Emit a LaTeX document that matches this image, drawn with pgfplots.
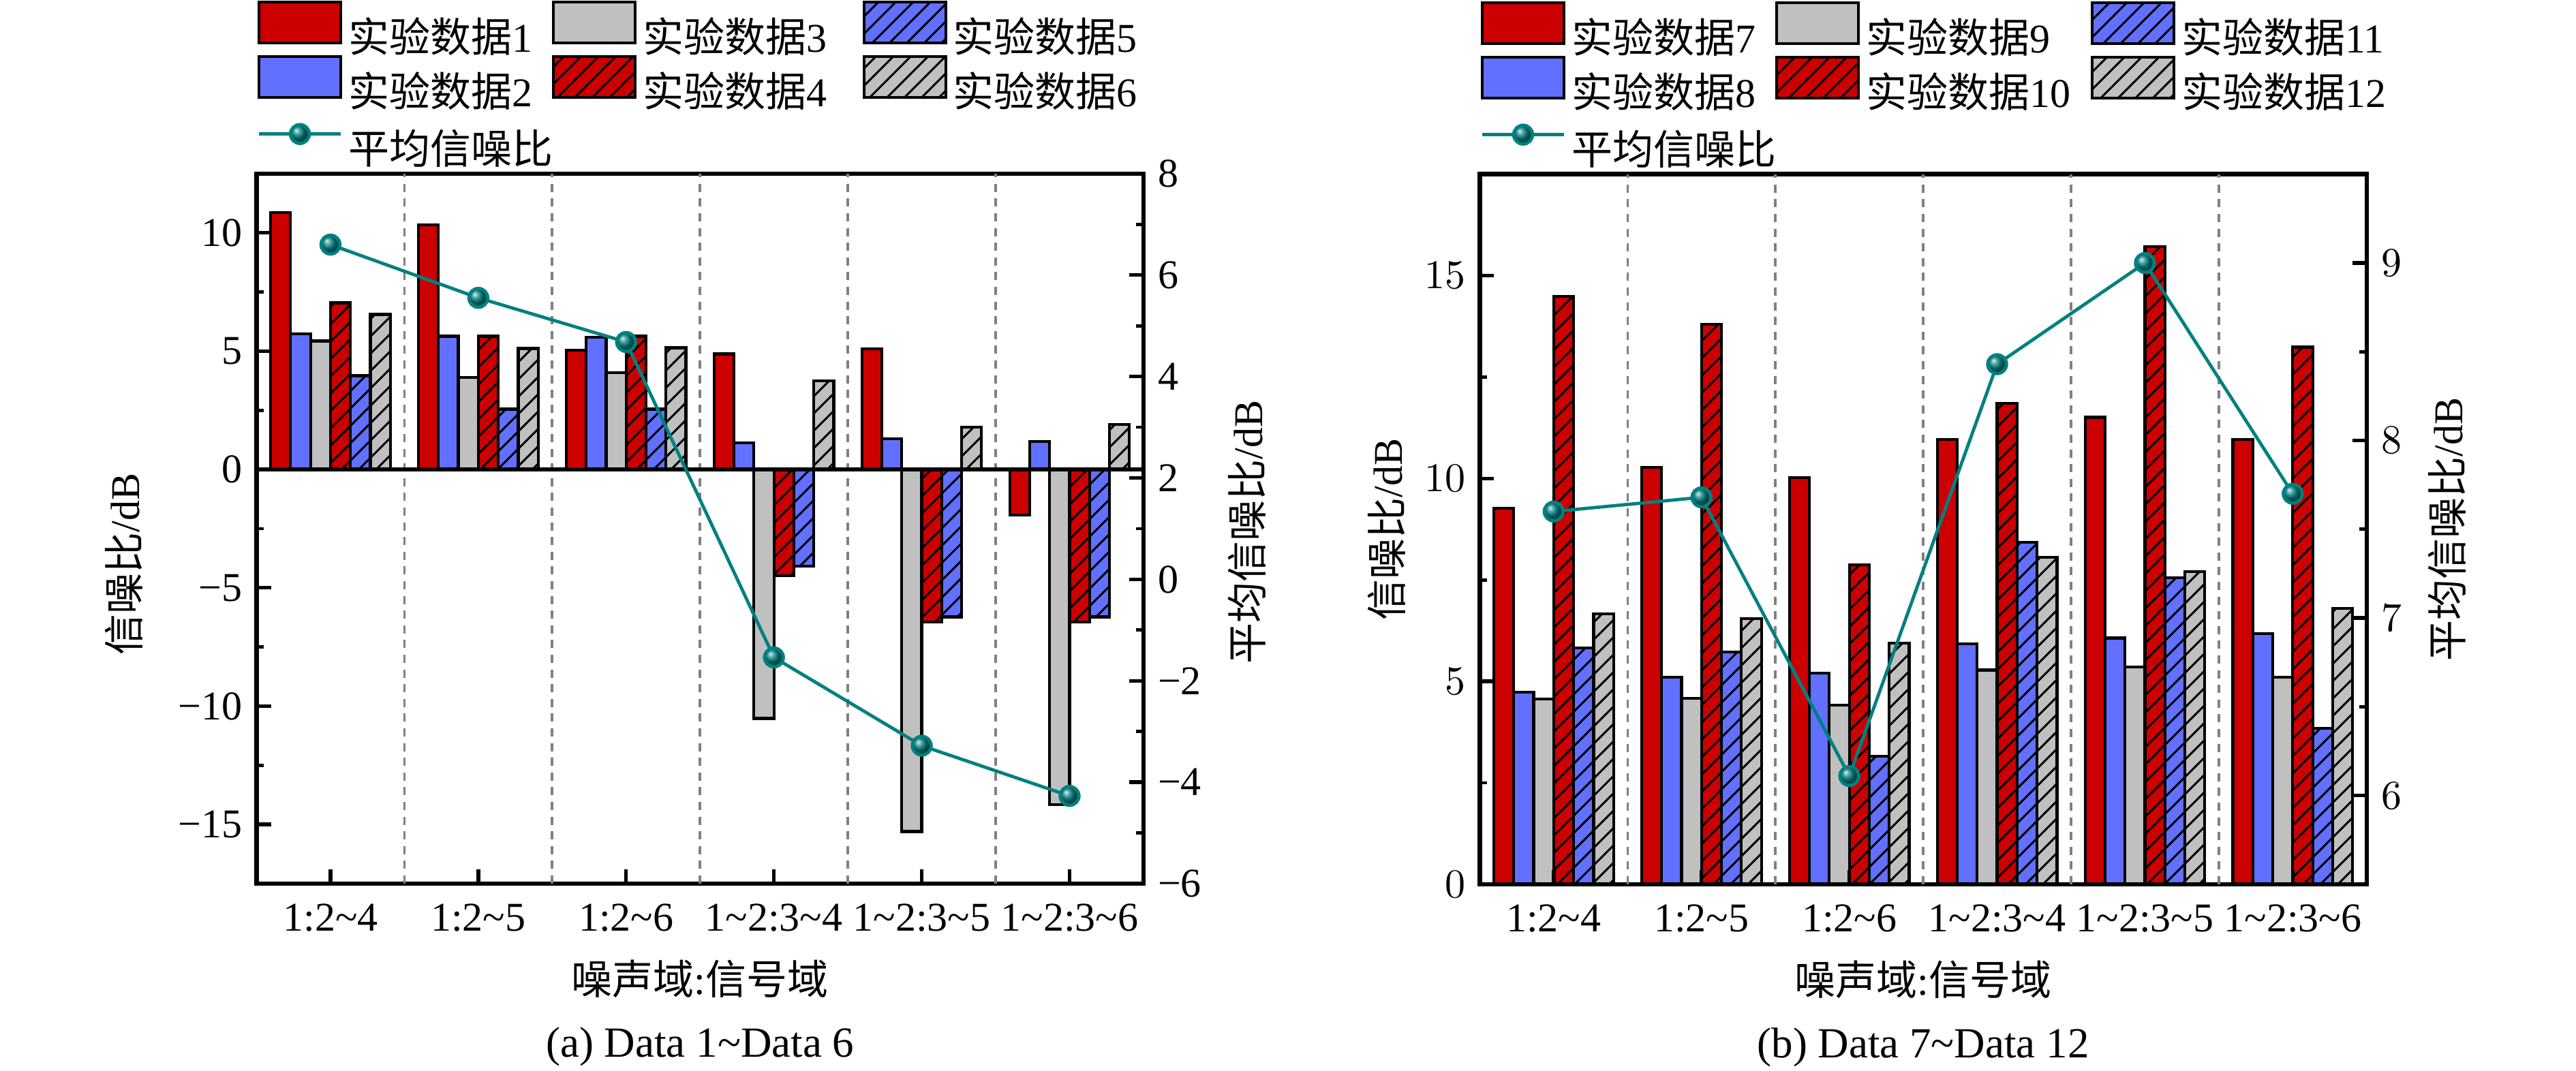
\documentclass[border=0pt]{standalone}
\usepackage{fontspec}
\setmainfont{Liberation Serif}
\newfontfamily\cjk{Noto Sans CJK SC}
\usepackage{pgfplots}
\usepackage{pgfplotstable}
\pgfplotsset{compat=1.18}
\usetikzlibrary{patterns.meta}
\definecolor{myred}{RGB}{204,0,0}
\definecolor{myblue}{RGB}{98,112,255}
\definecolor{mygray}{RGB}{192,192,192}
\definecolor{myteal}{RGB}{0,128,128}

\pgfplotstableread{
x d1 d2 d3 d4 d5 d6 avg
1 10.85 5.72 5.43 7.04 3.96 6.55 6.60
2 10.34 5.63 3.89 5.63 2.55 5.11 5.55
3 5.05 5.59 4.08 5.63 2.55 5.14 4.68
4 4.88 1.13 -10.52 -4.50 -4.09 3.74 -1.54
5 5.09 1.29 -15.30 -6.45 -6.23 1.78 -3.28
6 -1.93 1.18 -14.17 -6.45 -6.23 1.90 -4.27
}\lefttab

\pgfplotstableread{
x d1 d2 d3 d4 d5 d6 avg
1 9.27 4.74 4.57 14.49 5.83 6.66 7.60
2 10.27 5.10 4.59 13.80 5.73 6.55 7.68
3 10.03 5.21 4.42 7.87 3.15 5.94 6.11
4 10.97 5.93 5.28 11.85 8.43 8.06 8.43
5 11.51 6.07 5.36 15.71 7.56 7.70 9.00
6 10.97 6.18 5.11 13.24 3.84 6.80 7.70
}\righttab

\pgfplotsset{
  mybarlegend/.style={legend image code/.code={\draw[##1] (0pt,-1.2pt) rectangle (20pt,8.8pt);}},
  mylinelegend/.style={legend image code/.code={\path (0pt,9.4pt); \draw[mark repeat=2,mark phase=2,##1] plot coordinates {(0pt,3.8pt) (10pt,3.8pt) (20pt,3.8pt)};}},
  hatch/.style={postaction={pattern={Lines[angle=45,distance=3pt,line width=0.5pt]}, pattern color=black}},
  mybar/.style={ybar, bar width=0.135, draw=black, line width=0.7pt, mybarlegend},
  common/.style={
    scale only axis, width=216.9pt, height=173.7pt,
    xmin=0.5, xmax=6.5,
    tick align=inside,
    major tick length=3.5pt, minor tick length=1.8pt,
    axis line style={line width=1.1pt},
    every tick/.style={black, line width=0.9pt},
    every minor tick/.style={black, line width=0.8pt},
  },
  barsaxis/.style={
    common,
    clip mode=individual,
    xtick={1,2,3,4,5,6},
    xticklabels={1:2\textasciitilde 4, 1:2\textasciitilde 5, 1:2\textasciitilde 6, 1\textasciitilde 2:3\textasciitilde 4, 1\textasciitilde 2:3\textasciitilde 5, 1\textasciitilde 2:3\textasciitilde 6},
    xticklabel style={yshift=-1.5pt},
    xtick pos=left, ytick pos=left,
    extra x ticks={1.5,2.5,3.5,4.5,5.5}, extra x tick labels={},
    extra x tick style={grid=major, major grid style={dash pattern=on 2pt off 1.6pt, gray, line width=0.6pt}, major tick length=0pt},
    xlabel={{\cjk 噪声域}:{\cjk 信号域}},
    xlabel style={at={(axis description cs:0.5,-0.134)}, anchor=center},
    axis on top,
    legend columns=3,
    legend cell align=left,
    legend style={draw=none, fill=none, inner sep=0pt, at={(axis description cs:0,1.245)}, anchor=north west,
      nodes={inner xsep=1.5pt, inner ysep=0.5pt},
      row sep=-1.3pt},
  },
  lineaxis/.style={
    common,
    axis x line=none, axis y line*=right,
    xtick=\empty,
    minor y tick num=1,
  },
}

\begin{document}
\begin{tikzpicture}
\useasboundingbox (0,0) rectangle (630pt,262pt);

% ---------- (a) ----------
\begin{axis}[barsaxis, at={(62.75pt,45.83pt)}, anchor=south west,
  legend style={/tikz/column 2/.style={column sep=-1.7pt}, /tikz/column 4/.style={column sep=7.2pt}},
  ymin=-17.5, ymax=12.5,
  ytick={-15,-10,-5,0,5,10}, yticklabels={−15,−10,−5,0,5,10}, minor y tick num=1,
  extra y ticks={0}, extra y tick labels={},
  extra y tick style={grid=major, major grid style={black, line width=1.1pt}, major tick length=0pt},
  ylabel={{\cjk 信噪比}/dB},
  ylabel style={at={(axis description cs:-0.15,0.45)}, anchor=center},
]
\addplot[mybar, bar shift=-0.3375, fill=myred] table[x=x,y=d1] {\lefttab};
\addlegendentry{{\cjk 实验数据}1}
\addplot[mybar, bar shift=-0.0675, fill=mygray] table[x=x,y=d3] {\lefttab};
\addlegendentry{{\cjk 实验数据}3}
\addplot[mybar, bar shift=0.2025, fill=myblue, hatch] table[x=x,y=d5] {\lefttab};
\addlegendentry{{\cjk 实验数据}5}
\addplot[mybar, bar shift=-0.2025, fill=myblue] table[x=x,y=d2] {\lefttab};
\addlegendentry{{\cjk 实验数据}2}
\addplot[mybar, bar shift=0.0675, fill=myred, hatch] table[x=x,y=d4] {\lefttab};
\addlegendentry{{\cjk 实验数据}4}
\addplot[mybar, bar shift=0.3375, fill=mygray, hatch] table[x=x,y=d6] {\lefttab};
\addlegendentry{{\cjk 实验数据}6}
\addlegendimage{mylinelegend, myteal, line width=0.8pt, mark=ball, mark size=2.3pt, mark options={ball color=myteal}}
\addlegendentry{{\cjk 平均信噪比}}
\node[font=\fontsize{10.5}{12}\selectfont] at (axis description cs:0.5,-0.23) {(a) Data 1\textasciitilde Data 6};
\end{axis}
\begin{axis}[lineaxis, at={(62.75pt,45.83pt)}, anchor=south west,
  ymin=-6, ymax=8,
  ytick={-6,-4,-2,0,2,4,6,8}, yticklabels={−6,−4,−2,0,2,4,6,8},
  ylabel={{\cjk 平均信噪比}/dB},
  ylabel style={at={(axis description cs:1.117,0.495)}, anchor=center},
]
\addplot[myteal, line width=0.8pt, mark=ball, mark size=2.3pt, mark options={ball color=myteal}] table[x=x,y=avg] {\lefttab};
\end{axis}

% ---------- (b) ----------
\begin{axis}[barsaxis, at={(361.9pt,45.67pt)}, anchor=south west,
  legend style={/tikz/column 2/.style={column sep=-1.7pt}, /tikz/column 4/.style={column sep=3.4pt}},
  ymin=0, ymax=17.5,
  ytick={0,5,10,15}, minor y tick num=1,
  ylabel={{\cjk 信噪比}/dB},
  ylabel style={at={(axis description cs:-0.105,0.5)}, anchor=center},
]
\addplot[mybar, bar shift=-0.3375, fill=myred] table[x=x,y=d1] {\righttab};
\addlegendentry{{\cjk 实验数据}7}
\addplot[mybar, bar shift=-0.0675, fill=mygray] table[x=x,y=d3] {\righttab};
\addlegendentry{{\cjk 实验数据}9}
\addplot[mybar, bar shift=0.2025, fill=myblue, hatch] table[x=x,y=d5] {\righttab};
\addlegendentry{{\cjk 实验数据}11}
\addplot[mybar, bar shift=-0.2025, fill=myblue] table[x=x,y=d2] {\righttab};
\addlegendentry{{\cjk 实验数据}8}
\addplot[mybar, bar shift=0.0675, fill=myred, hatch] table[x=x,y=d4] {\righttab};
\addlegendentry{{\cjk 实验数据}10}
\addplot[mybar, bar shift=0.3375, fill=mygray, hatch] table[x=x,y=d6] {\righttab};
\addlegendentry{{\cjk 实验数据}12}
\addlegendimage{mylinelegend, myteal, line width=0.8pt, mark=ball, mark size=2.3pt, mark options={ball color=myteal}}
\addlegendentry{{\cjk 平均信噪比}}
\node[font=\fontsize{10.5}{12}\selectfont] at (axis description cs:0.5,-0.23) {(b) Data 7\textasciitilde Data 12};
\end{axis}
\begin{axis}[lineaxis, at={(361.9pt,45.67pt)}, anchor=south west,
  ymin=5.5, ymax=9.5,
  ytick={6,7,8,9},
  ylabel={{\cjk 平均信噪比}/dB},
  ylabel style={at={(axis description cs:1.091,0.5)}, anchor=center},
]
\addplot[myteal, line width=0.8pt, mark=ball, mark size=2.3pt, mark options={ball color=myteal}] table[x=x,y=avg] {\righttab};
\end{axis}
\end{tikzpicture}
\end{document}
